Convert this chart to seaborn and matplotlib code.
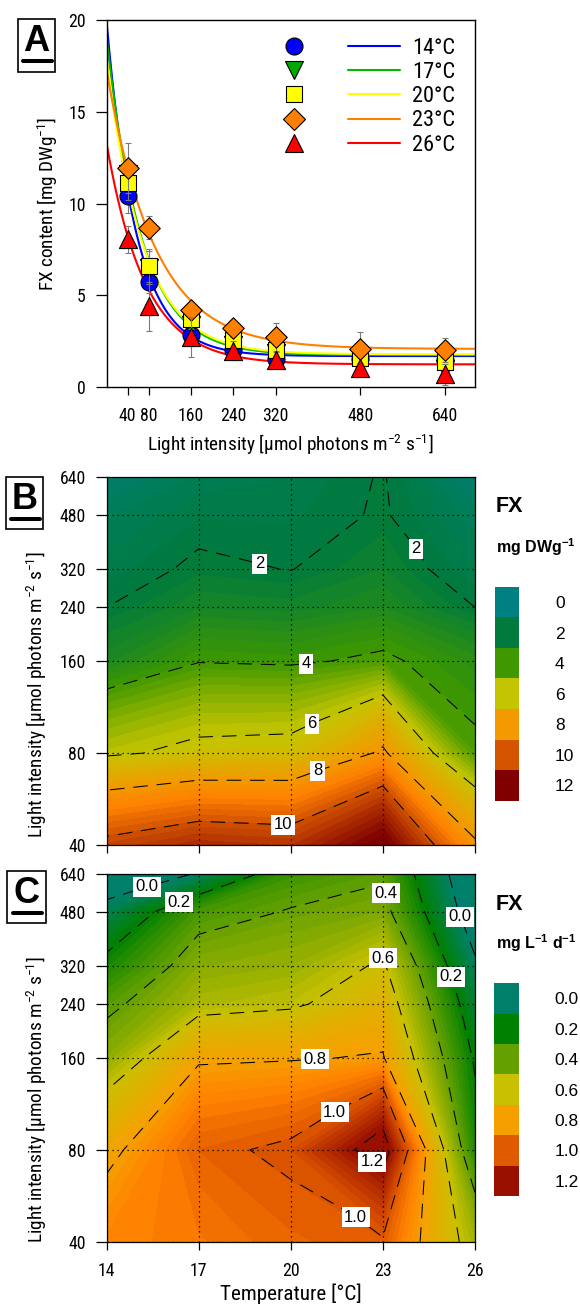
import numpy as np
import matplotlib
matplotlib.use("Agg")
import matplotlib.pyplot as plt
import seaborn as sns
from matplotlib import font_manager as fm
from matplotlib.colors import LinearSegmentedColormap, Normalize
from matplotlib.patches import Rectangle
from matplotlib.lines import Line2D

# ---------------- Panel A data ----------------
light_levels = [40, 80, 160, 240, 320, 480, 640]
temp_labels = ["14°C", "17°C", "20°C", "23°C", "26°C"]
fx_14 = [10.4, 5.75, 2.85, 2.03, 1.52, 1.55, 1.5]
fx_17 = [11.6, 6.5, 3.4, 2.3, 1.85, 1.65, 1.0]
fx_20 = [11.1, 6.6, 3.7, 2.6, 2.05, 1.6, 1.4]
fx_23 = [11.95, 8.7, 4.2, 3.25, 2.75, 2.1, 2.05]
fx_26 = [8.05, 4.4, 2.75, 2.0, 1.5, 1.05, 0.7]
sd_14 = [0.9, 0.6, 0.35, 0.3, 0.3, 0.3, 0.3]
sd_17 = [0.8, 0.9, 0.5, 0.4, 0.3, 0.3, 0.4]
sd_20 = [0.9, 0.95, 0.5, 0.45, 0.35, 0.45, 0.35]
sd_23 = [1.35, 0.65, 0.35, 0.3, 0.75, 0.9, 0.65]
sd_26 = [0.75, 1.35, 1.1, 0.5, 0.4, 0.3, 0.55]
# fitted exponential decay curves  y = a*exp(-b*x) + c
fit_a = [18.25, 17.35, 16.2, 15.2, 12.05]
fit_b = [0.01775, 0.0151, 0.01445, 0.0110, 0.01363]
fit_c = [1.70, 1.75, 1.80, 2.09, 1.25]

# ---------------- Panel B / C grid data ----------------
temp_grid = [14, 17, 20, 23, 26]
light_grid = [40, 80, 160, 240, 320, 480, 640]
# FX content (mg DWg-1), one list per temperature (light 40 -> 640)
fxb_14 = [10.3, 5.8, 2.9, 2.0, 1.6, 1.2, 0.6]
fxb_17 = [10.9, 6.3, 3.95, 2.7, 2.15, 1.7, 1.3]
fxb_20 = [10.7, 6.4, 3.85, 2.6, 1.98, 1.7, 1.5]
fxb_23 = [12.3, 8.2, 4.2, 3.0, 2.5, 2.08, 2.06]
fxb_26 = [8.2, 4.2, 3.36, 2.0, 1.5, 1.1, 0.5]
# FX productivity (mg L-1 d-1)
fxc_14 = [0.88, 0.76, 0.476, 0.365, 0.24, 0.05, -0.12]
fxc_17 = [0.92, 0.975, 0.78, 0.54, 0.47, 0.34, 0.01]
fxc_20 = [0.97, 1.02, 0.79, 0.576, 0.50, 0.41, 0.31]
fxc_23 = [0.99, 1.28, 0.81, 0.70, 0.62, 0.45, 0.38]
fxc_26 = [0.52, 0.253, 0.182, 0.10, 0.02, -0.10, -0.15]

legend_b_labels = ["0", "2", "4", "6", "8", "10", "12"]
legend_c_labels = ["0.0", "0.2", "0.4", "0.6", "0.8", "1.0", "1.2"]
levels_b_lines = [2, 4, 6, 8, 10]
levels_c_lines = [0.0, 0.2, 0.4, 0.6, 0.8, 1.0, 1.2]
temp_ticks = [14, 17, 20, 23, 26]

# ---------------- style ----------------
sns.set_style("ticks")
avail = {f.name for f in fm.fontManager.ttflist}
narrow = None
grow = 1.0
for name, g in [("Liberation Sans Narrow", 1.16), ("Arial Narrow", 1.16), ("Roboto Condensed", 1.11)]:
    if name in avail:
        narrow, grow = name, g
        break
fams = ([narrow] if narrow else []) + ["Liberation Sans", "DejaVu Sans"]
plt.rcParams["font.family"] = fams
plt.rcParams["mathtext.default"] = "regular"
plt.rcParams["axes.edgecolor"] = "black"
plt.rcParams["xtick.color"] = "black"
plt.rcParams["ytick.color"] = "black"
plt.rcParams["text.color"] = "black"
plt.rcParams["axes.labelcolor"] = "black"
plt.rcParams["lines.dashed_pattern"] = [14, 8.5]

FS_TICK = 11.5 * grow
FS_AXLAB = 12.5 * grow
FS_TEMP = 13.7 * grow
FS_YLAB_A = 12.5 * grow
FS_LEG = 14.5 * grow

W, H = 580, 1307
fig = plt.figure(figsize=(W / 100, H / 100), dpi=100)


def ax_rect(x0, x1, y0, y1):
    return [x0 / W, 1 - y1 / H, (x1 - x0) / W, (y1 - y0) / H]


marker_colors = ["#0000FF", "#00A800", "#FFFF00", "#FF8000", "#FF0000"]
line_colors = ["#0000FF", "#00BB00", "#FFFF00", "#FF8000", "#FF0000"]
marker_styles = ["o", "v", "s", "D", "^"]
marker_sizes = [150, 170, 135, 120, 170]

# ================= Panel A =================
axA = fig.add_axes(ax_rect(106.5, 475, 20, 387.3))
series = [fx_14, fx_17, fx_20, fx_23, fx_26]
sds = [sd_14, sd_17, sd_20, sd_23, sd_26]
xs = np.linspace(0, 697, 400)
for i in range(5):
    ys = fit_a[i] * np.exp(-fit_b[i] * xs) + fit_c[i]
    sns.lineplot(x=xs, y=ys, color=line_colors[i], lw=1.5, ax=axA, legend=False, zorder=2)
for i in range(5):
    axA.errorbar(light_levels, series[i], yerr=sds[i], fmt="none", ecolor="#7a7a7a",
                 elinewidth=0.8, capsize=2, capthick=0.8, zorder=3 + 2 * i)
    sns.scatterplot(x=light_levels, y=series[i], marker=marker_styles[i], s=marker_sizes[i],
                    color=marker_colors[i], edgecolor="black", linewidth=0.8, ax=axA,
                    legend=False, zorder=4 + 2 * i)
axA.set_xlim(0, 697)
axA.set_ylim(0, 20)
axA.set_xticks(light_levels)
axA.set_xticklabels([str(v) for v in light_levels])
axA.set_yticks([0, 5, 10, 15, 20])
for s in axA.spines.values():
    s.set_visible(True)
    s.set_linewidth(1.0)
axA.tick_params(axis="y", length=8, width=0.9, pad=7, labelsize=FS_TICK)
axA.tick_params(axis="x", length=5.5, width=0.9, pad=9, labelsize=FS_TICK)
axA.set_xlabel(r"Light intensity [µmol photons m$^{-2}$ s$^{-1}$]", fontsize=FS_AXLAB)
axA.set_ylabel(r"FX content [mg DWg$^{-1}$]", fontsize=FS_YLAB_A)
axA.xaxis.set_label_coords(0.5, -0.157)
axA.xaxis.label.set_va("center")
axA.yaxis.set_label_coords(-0.159, 0.5)
axA.yaxis.label.set_va("center")

mh = [Line2D([], [], marker=marker_styles[i], ls="none", mfc=marker_colors[i], mec="black",
             mew=0.8, ms=np.sqrt(marker_sizes[i])) for i in range(5)]
lh = [Line2D([], [], color=line_colors[i], lw=1.5) for i in range(5)]
leg_px = FS_LEG * 100 / 72
axA.legend(mh + lh, [""] * 5 + temp_labels, ncol=2, frameon=False, fontsize=FS_LEG,
           loc="upper left", bbox_to_anchor=(0.438, 0.952), borderpad=0, borderaxespad=0,
           handlelength=52 / leg_px, handletextpad=12 / leg_px, columnspacing=16 / leg_px,
           labelspacing=(25.6 - leg_px) / leg_px)

# ================= contour panels =================
# colour ramps: anchors are the key colours plus a vivid orange between the 8/10 (0.8/1.0) keys
ramp_b = ["#008080", "#007A3D", "#3F9800", "#C4C400", "#F29A00", "#FF8000", "#D45400", "#800000"]
ramp_c = ["#00806A", "#008000", "#64A000", "#C8C000", "#F5A000", "#FF8000", "#E05A00", "#9A1000"]
ramp_pos = [0, 1 / 6, 2 / 6, 3 / 6, 4 / 6, 4.5 / 6, 5 / 6, 1]
key_b = ["#008080", "#007A3D", "#3F9800", "#C4C400", "#F29A00", "#D45400", "#800000"]
key_c = ["#00806A", "#008000", "#64A000", "#C8C000", "#F5A000", "#E05A00", "#9A1000"]
bold_fam = ["Liberation Sans", "DejaVu Sans"]


def draw_contours(ax, zcols, ramp, vmin, vmax, fill_levels, line_levels, fmt, positions):
    Z = np.column_stack(zcols)
    cmap = LinearSegmentedColormap.from_list("fx", list(zip(ramp_pos, ramp)))
    cmap = cmap.with_extremes(under=ramp[0], over=ramp[-1])
    norm = Normalize(vmin, vmax)
    cf = ax.contourf(temp_grid, light_grid, Z, levels=fill_levels, cmap=cmap, norm=norm,
                     extend="both", zorder=1)
    cf.set_edgecolor("face")
    cf.set_linewidth(0.5)
    cs = ax.contour(temp_grid, light_grid, Z, levels=line_levels, colors="black",
                    linewidths=0.75, linestyles="dashed", zorder=2)
    labels = ax.clabel(cs, levels=line_levels, fmt=fmt, manual=positions, inline=True,
                       fontsize=12, inline_spacing=3)
    for t in labels:
        t.set_rotation(0)
        t.set_family(bold_fam)
        t.set_bbox(dict(boxstyle="square,pad=0.15", fc="white", ec="none"))
        t.set_zorder(5)
    ax.set_yscale("log")
    ax.set_xlim(14, 26)
    ax.set_ylim(40, 640)
    ax.set_xticks(temp_ticks)
    ax.set_yticks(light_grid)
    ax.set_yticklabels([str(v) for v in light_grid])
    ax.yaxis.set_minor_locator(matplotlib.ticker.NullLocator())
    ax.set_axisbelow(False)
    ax.grid(True, color="black", lw=0.9, ls=(0, (1, 3)))
    for s in ax.spines.values():
        s.set_linewidth(0.9)
    ax.tick_params(axis="y", length=8, width=0.9, pad=7, labelsize=FS_TICK)
    ax.tick_params(axis="x", length=5.5, width=0.9, pad=9, labelsize=FS_TICK)
    ax.set_ylabel(r"Light intensity [µmol photons m$^{-2}$ s$^{-1}$]", fontsize=FS_AXLAB)
    ax.yaxis.label.set_va("center")


axB = fig.add_axes(ax_rect(106.5, 475, 477.3, 845))
pos_b = [(18.97, 332), (24.3, 378), (20.5, 154), (20.7, 99.5), (20.87, 69), (19.75, 47.7)]
draw_contours(axB, [fxb_14, fxb_17, fxb_20, fxb_23, fxb_26], ramp_b, 0, 12,
              np.arange(0, 12.51, 0.25), levels_b_lines, "%d", pos_b)
axB.set_xticklabels([])
axB.yaxis.set_label_coords(-0.189, 0.408)

axC = fig.add_axes(ax_rect(106.5, 475, 874, 1241.7))
pos_c = [(15.3, 583), (16.3, 520), (22.86, 553), (22.75, 357), (20.8, 153), (21.44, 104),
         (22.64, 72), (22.1, 45), (25.6, 465), (25.26, 295)]
draw_contours(axC, [fxc_14, fxc_17, fxc_20, fxc_23, fxc_26], ramp_c, 0, 1.2,
              np.arange(0, 1.2501, 0.025), levels_c_lines, "%.1f", pos_c)
axC.set_xticklabels([str(v) for v in temp_ticks])
axC.set_xlabel("Temperature [°C]", fontsize=FS_TEMP)
axC.xaxis.set_label_coords(0.5, -0.142)
axC.xaxis.label.set_va("center")
axC.yaxis.set_label_coords(-0.189, 0.385)


# ================= colour keys =================
def colour_key(rect, colors, labels):
    k = fig.add_axes(rect)
    k.barh(range(len(colors)), [1] * len(colors), height=1.0, color=colors, edgecolor="none")
    k.set_xlim(0, 1)
    k.set_ylim(len(colors) - 0.5, -0.5)
    k.yaxis.tick_right()
    k.set_yticks(range(len(colors)))
    k.set_yticklabels(labels, fontsize=12.5, family=bold_fam)
    k.tick_params(axis="y", length=0, pad=26)
    k.set_xticks([])
    for s in k.spines.values():
        s.set_visible(False)
    return k


colour_key(ax_rect(494.7, 519, 586.7, 800.7), key_b, legend_b_labels)
colour_key(ax_rect(494.3, 518.7, 983.3, 1196), key_c, legend_c_labels)

fig.text(496 / W, 1 - 506.7 / H, "FX", fontsize=15.5, fontweight="bold", family=bold_fam,
         va="center", ha="left")
fig.text(496 / W, 1 - 547 / H, r"mg DWg$^{-1}$", fontsize=11.5, fontweight="bold", family=bold_fam,
         va="center", ha="left")
fig.text(496 / W, 1 - 904 / H, "FX", fontsize=15.5, fontweight="bold", family=bold_fam,
         va="center", ha="left")
fig.text(496 / W, 1 - 943 / H, r"mg L$^{-1}$ d$^{-1}$", fontsize=11.5, fontweight="bold",
         family=bold_fam, va="center", ha="left")


# ================= panel letters =================
def panel_letter(letter, x0, y0, x1, y1):
    fig.add_artist(Rectangle((x0 / W, 1 - y1 / H), (x1 - x0) / W, (y1 - y0) / H,
                             transform=fig.transFigure, fill=False, ec="black", lw=1.2))
    cx = (x0 + x1) / 2
    fig.text(cx / W, 1 - (y0 + 22.7) / H, letter, fontsize=26, fontweight="bold",
             family=bold_fam, ha="center", va="center")
    fig.add_artist(Line2D([(x0 + 5.3) / W, (x1 - 3.5) / W], [1 - (y0 + 42) / H] * 2,
                          transform=fig.transFigure, color="black", lw=2.9))


panel_letter("A", 17.7, 19, 55, 71.7)
panel_letter("B", 5.5, 477, 43.3, 529)
panel_letter("C", 7.4, 871, 45.5, 923)

fig.savefig("out.png", dpi=100)
